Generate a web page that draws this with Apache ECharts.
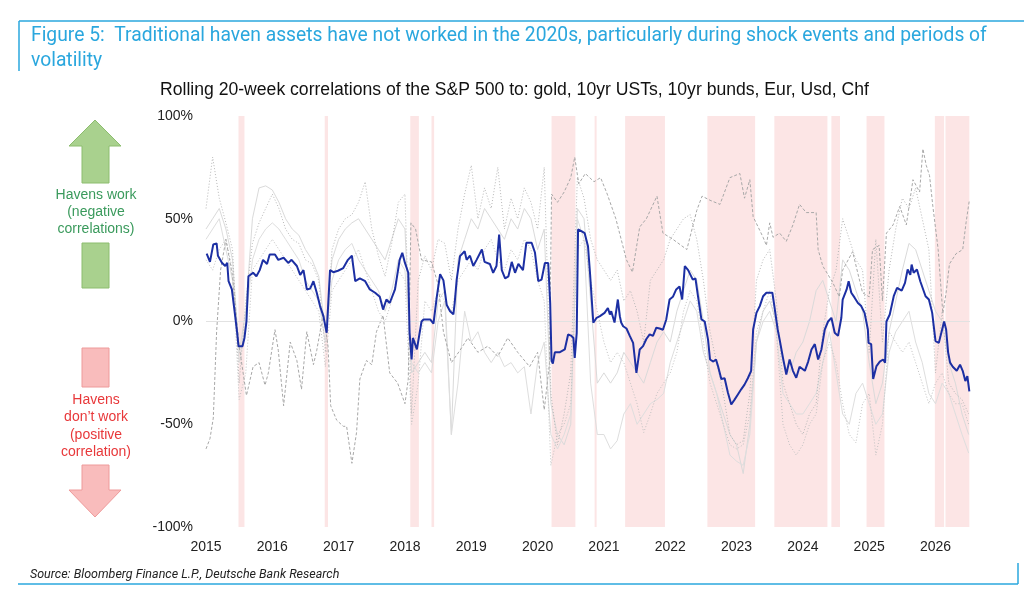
<!DOCTYPE html>
<html>
<head>
<meta charset="utf-8">
<script src="https://cdn.jsdelivr.net/npm/echarts@6/dist/echarts.min.js"></script>
<style>
  html, body { margin: 0; padding: 0; background: #fff; }
  #chart { width: 1024px; height: 597px; }
</style>
</head>
<body>
<div id="chart"></div>
<script>
// shaded "shock" periods, decimal years
var shockStart = [2015.49, 2016.79, 2018.08, 2018.40, 2020.21, 2020.86, 2021.32, 2022.56, 2023.57, 2024.43, 2024.96, 2025.99, 2026.15];
var shockEnd   = [2015.58, 2016.84, 2018.21, 2018.44, 2020.57, 2020.89, 2021.92, 2023.28, 2024.37, 2024.56, 2025.23, 2026.13, 2026.51];

var yTicks = [-100, -50, 0, 50, 100];

// average correlation (blue), [year, %]
var avgCorr = [[2015.01,33],[2015.06,29],[2015.11,37.5],[2015.16,38],[2015.18,32],[2015.24,28.6],[2015.29,27],[2015.32,28.6],[2015.34,19.6],[2015.39,15.6],[2015.44,2.6],[2015.47,-5.5],[2015.49,-12],[2015.55,-12],[2015.58,-8],[2015.61,0],[2015.64,22],[2015.71,23.7],[2015.76,22],[2015.81,25],[2015.86,30],[2015.92,28],[2015.96,32.6],[2016.04,32.6],[2016.09,30],[2016.17,31],[2016.24,28.5],[2016.29,30],[2016.37,27],[2016.42,22.7],[2016.47,25],[2016.52,15.6],[2016.57,16],[2016.62,19.6],[2016.67,14],[2016.72,7.5],[2016.77,2.6],[2016.82,-5.5],[2016.87,25],[2016.92,24],[2016.99,24.7],[2017.07,26],[2017.14,30],[2017.20,32],[2017.22,27],[2017.25,19.6],[2017.32,21],[2017.40,19.6],[2017.47,15.6],[2017.55,14],[2017.62,12],[2017.67,5.8],[2017.72,10.7],[2017.77,9],[2017.85,15.6],[2017.92,30],[2017.96,33.4],[2018.00,28.5],[2018.05,23.7],[2018.07,-5.5],[2018.10,-18.5],[2018.12,-8],[2018.18,-13.6],[2018.25,0],[2018.28,1],[2018.38,1],[2018.43,-1],[2018.48,12],[2018.53,23],[2018.58,20],[2018.63,8],[2018.68,5],[2018.73,3.5],[2018.75,9],[2018.78,20.4],[2018.83,31.8],[2018.90,34.2],[2018.93,30],[2018.98,32],[2019.03,27],[2019.08,30],[2019.16,35],[2019.20,29],[2019.28,28],[2019.33,23.7],[2019.38,27],[2019.42,42.3],[2019.46,25],[2019.51,21],[2019.56,22],[2019.61,29],[2019.66,23.7],[2019.71,28],[2019.78,25],[2019.83,38.3],[2019.91,38.3],[2019.96,33.6],[2020.01,19.6],[2020.06,20.4],[2020.11,28.5],[2020.16,28.5],[2020.19,9],[2020.21,-19],[2020.23,-20.5],[2020.26,-15],[2020.33,-15],[2020.41,-13.6],[2020.46,-6.3],[2020.51,-7],[2020.54,-8],[2020.56,-17.7],[2020.59,-5.5],[2020.61,44.8],[2020.66,44],[2020.71,43],[2020.76,36.6],[2020.79,23.7],[2020.84,-0.6],[2020.89,1.8],[2020.94,2.6],[2021.01,4.2],[2021.06,6.6],[2021.09,3.4],[2021.11,5],[2021.16,-0.5],[2021.21,10.7],[2021.24,2.6],[2021.26,-0.5],[2021.29,-2.3],[2021.34,-3.4],[2021.39,-7],[2021.44,-10.4],[2021.49,-25],[2021.54,-13.6],[2021.59,-12],[2021.64,-8.5],[2021.69,-6.3],[2021.74,-7],[2021.79,-3],[2021.84,-3.4],[2021.89,-4],[2021.94,1],[2021.99,10.7],[2022.04,12],[2022.09,15.6],[2022.14,17],[2022.18,10.7],[2022.22,27],[2022.27,25],[2022.34,20.4],[2022.38,21],[2022.42,12],[2022.47,1],[2022.52,0],[2022.57,-8.8],[2022.60,-18.5],[2022.65,-19.5],[2022.69,-18.5],[2022.72,-21.7],[2022.77,-28],[2022.82,-27.6],[2022.87,-34.7],[2022.92,-40.4],[2022.97,-38],[2023.02,-35.5],[2023.07,-33],[2023.12,-30.7],[2023.17,-27.6],[2023.22,-24],[2023.25,-3.9],[2023.30,4.2],[2023.35,7.5],[2023.40,12.3],[2023.45,14],[2023.50,14],[2023.54,14],[2023.57,7.5],[2023.62,-3.9],[2023.65,-8.8],[2023.70,-17.7],[2023.75,-25.8],[2023.80,-18.5],[2023.85,-24],[2023.90,-27.4],[2023.95,-22],[2024.03,-24],[2024.08,-19.5],[2024.13,-13.6],[2024.18,-11],[2024.23,-18.5],[2024.28,-13.6],[2024.33,-3.9],[2024.38,0],[2024.43,1.8],[2024.48,-5.5],[2024.53,-7],[2024.58,1.8],[2024.60,10.7],[2024.66,15.6],[2024.69,19.6],[2024.73,14],[2024.78,11.6],[2024.83,9],[2024.88,7.5],[2024.93,4.2],[2024.98,-3.9],[2024.99,-10.4],[2025.03,-11],[2025.06,-28],[2025.11,-21.7],[2025.16,-19.5],[2025.21,-18.5],[2025.24,-20],[2025.26,0],[2025.31,3.4],[2025.37,12.3],[2025.42,16.4],[2025.49,15],[2025.54,18.8],[2025.58,25.3],[2025.62,22.7],[2025.64,27.7],[2025.67,23.7],[2025.72,25.3],[2025.77,19.6],[2025.85,12.3],[2025.90,10.7],[2025.95,4.2],[2026.00,-9.6],[2026.05,-10.4],[2026.10,-3.9],[2026.13,0],[2026.16,-3.9],[2026.19,-15],[2026.22,-20],[2026.26,-22],[2026.32,-24],[2026.37,-21],[2026.41,-24],[2026.45,-29],[2026.48,-26.6],[2026.51,-34]];

// dashed grey line, [year, %]
var dashCorr = [[2015.00,-62],[2015.06,-57],[2015.11,-47],[2015.16,-5],[2015.22,25],[2015.30,40],[2015.40,22],[2015.50,-12],[2015.61,-36],[2015.71,-22],[2015.80,-20],[2015.89,-31],[2015.94,-25],[2016.04,-4],[2016.09,-14],[2016.17,-41],[2016.27,-10],[2016.37,-19],[2016.44,-33],[2016.52,-5],[2016.62,-21],[2016.67,-14],[2016.77,4],[2016.84,-12],[2016.88,-41],[2016.97,-48],[2017.07,-51],[2017.12,-51],[2017.20,-69],[2017.27,-54],[2017.32,-28],[2017.42,-19],[2017.50,-21],[2017.57,-5],[2017.67,3],[2017.77,-25],[2017.89,-30],[2018.00,-40],[2018.05,-28],[2018.09,48],[2018.16,45],[2018.25,30],[2018.40,29],[2018.50,18],[2018.58,-5],[2018.70,-20],[2018.83,-14],[2018.95,-8],[2019.10,-15],[2019.25,-12],[2019.40,-17],[2019.55,-8],[2019.70,-15],[2019.88,-22],[2020.00,-15],[2020.10,-43],[2020.18,-20],[2020.21,62],[2020.30,58],[2020.40,63],[2020.50,70],[2020.56,80],[2020.62,67],[2020.72,72],[2020.85,68],[2020.95,70],[2021.05,62],[2021.18,50],[2021.34,30],[2021.43,24],[2021.54,46],[2021.64,50],[2021.80,61],[2021.89,43],[2022.04,40],[2022.25,35],[2022.40,54],[2022.48,61],[2022.60,59],[2022.75,57],[2022.90,70],[2023.05,72],[2023.12,60],[2023.20,69],[2023.25,51],[2023.40,41],[2023.45,37],[2023.50,48],[2023.55,41],[2023.65,43],[2023.75,39],[2023.85,47],[2023.95,57],[2024.05,53],[2024.20,53],[2024.23,35],[2024.30,27],[2024.45,19],[2024.55,12],[2024.60,25],[2024.75,34],[2024.90,14],[2025.00,12],[2025.05,35],[2025.15,37],[2025.20,10],[2025.26,43],[2025.36,47],[2025.46,56],[2025.56,47],[2025.66,69],[2025.76,63],[2025.81,84],[2025.86,76],[2025.91,71],[2025.96,56],[2026.04,35],[2026.11,4],[2026.16,14],[2026.21,28],[2026.31,33],[2026.41,35],[2026.46,48],[2026.51,59]];

// other grey lines, one value every 0.1 year from 2015.0
var greyYears = [];
for (var i = 0; i <= 115; i++) greyYears.push(+(2015 + i * 0.1).toFixed(1));

var dotUpper = [55,80,60,48,35,-30,10,38,48,55, 62,55,45,40,38,30,28,20,-15,35, 45,50,52,58,68,45,32,22,38,58, 62,-45,20,32,25,40,38,20,45,62, 76,50,65,55,75,45,60,50,65,58, 45,75,-35,-60,-45,-25,70,60,40,30, 25,20,25,10,15,5,-10,20,25,30, 40,45,50,52,40,20,-5,-20,-35,-55, -60,-58,-35,20,30,35,10,-30,-40,-50, -55,-45,-40,-5,15,25,50,40,30,25, -15,40,-10,25,45,60,55,65,50,35, -25,5,-30,-35,-38,-45];
var dotLower = [30,25,35,40,25,-38,-25,25,30,35, 40,35,30,25,20,15,10,5,-22,15, 20,25,30,35,25,15,5,0,10,25, 20,-50,-30,10,5,15,10,5,20,25, 30,25,35,40,30,25,35,30,40,35, 20,10,-70,-55,-50,-40,35,40,20,5, -10,-20,-15,-20,-30,-40,-54,-45,-35,-30, -25,-15,5,15,10,-10,-30,-40,-50,-60, -62,-60,-45,-5,5,15,-5,-50,-60,-65, -60,-50,-45,-20,-10,-20,-40,-55,-59,-40, -35,-65,-50,-5,-10,-15,-10,-20,-30,-40, -30,-25,-35,-40,-40,-50];
var solidUpper = [45,50,55,45,30,-15,5,50,65,66, 64,58,50,45,42,35,30,22,-5,30, 40,45,48,50,45,40,35,30,40,50, 45,-25,-20,-15,-20,10,15,-55,30,40, 50,45,55,50,45,40,50,45,55,50, 35,45,-40,-55,-60,-50,55,50,10,-30, -25,-30,-25,-15,-20,-25,-30,-20,-10,-5, -10,5,15,25,20,0,-25,-35,-45,-55, -60,-74,-50,-10,5,10,0,-20,-25,-15, -10,0,15,20,10,0,30,25,15,5, -20,-40,-30,-5,10,25,38,35,25,15, 5,0,-20,-30,-45,-55];
var solidLower = [40,45,50,35,20,-20,0,30,40,45, 48,45,40,35,30,20,15,10,-10,20, 30,35,38,30,25,20,15,5,15,30, 25,-20,-25,-20,-25,0,10,-55,-30,5, -10,-5,-15,-20,-15,-22,-20,-25,-22,-45, -20,-10,-55,-62,-55,-45,50,40,-30,-55, -55,-62,-58,-45,-40,-50,-45,-40,-38,-35, -20,-10,0,10,5,-15,-25,-35,-50,-65, -68,-70,-55,-10,0,5,-5,-35,-40,-45, -45,-40,-35,-20,-5,-25,-45,-50,-35,-30, -40,-50,-45,-15,-5,0,5,-10,-20,-35, -40,-30,-35,-45,-55,-64];

function pairUp(vals) {
  return vals.map(function (v, k) { return [greyYears[k], v]; });
}

var chart = echarts.init(document.getElementById('chart'));

var bandData = shockStart.map(function (s, k) {
  return [{ xAxis: s }, { xAxis: shockEnd[k] }];
});

var greyLine = function (name, data, color, type) {
  return {
    name: name, type: 'line', data: data, symbol: 'none', z: 3,
    lineStyle: { color: color, width: 1, type: type }, silent: true
  };
};

var option = {
  backgroundColor: '#fff',
  animation: false,
  grid: { left: 206, right: 54, top: 116, bottom: 70 },
  xAxis: {
    type: 'value', min: 2015, max: 2026.52, interval: 1,
    axisLine: { show: false }, axisTick: { show: false }, splitLine: { show: false },
    axisLabel: {
      margin: 13, color: '#222', fontSize: 14, fontFamily: 'Liberation Sans',
      formatter: function (v) { return v % 1 === 0 ? String(v) : ''; }
    }
  },
  yAxis: {
    type: 'value', min: yTicks[0], max: yTicks[yTicks.length - 1], interval: 50,
    axisLine: { show: false }, axisTick: { show: false }, splitLine: { show: false },
    axisLabel: { margin: 13, color: '#222', fontSize: 14, fontFamily: 'Liberation Sans', formatter: '{value}%' }
  },
  series: [
    {
      name: 'bands', type: 'line', data: [], z: 1, silent: true,
      markArea: { silent: true, itemStyle: { color: '#fce5e5' }, data: bandData },
      markLine: {
        silent: true, symbol: 'none', label: { show: false },
        lineStyle: { color: '#e2e2e2', width: 1, type: 'solid' },
        data: [{ yAxis: 0 }]
      }
    },
    greyLine('solidUpper', pairUp(solidUpper), '#dadada', 'solid'),
    greyLine('solidLower', pairUp(solidLower), '#dedede', 'solid'),
    greyLine('dotUpper', pairUp(dotUpper), '#b8b8b8', [1, 2]),
    greyLine('dotLower', pairUp(dotLower), '#c2c2c2', [1, 2]),
    greyLine('dash', dashCorr, '#a8a8a8', [3, 2]),
    {
      name: 'average', type: 'line', data: avgCorr, symbol: 'none', z: 5,
      lineStyle: { color: '#1c2fa3', width: 2 }
    }
  ],
  graphic: [
    // frame lines
    { type: 'line', shape: { x1: 19, y1: 21, x2: 1024, y2: 21 }, style: { stroke: '#2aa7de', lineWidth: 1.5 } },
    { type: 'line', shape: { x1: 19, y1: 21, x2: 19, y2: 71 }, style: { stroke: '#2aa7de', lineWidth: 1.5 } },
    { type: 'line', shape: { x1: 18, y1: 584, x2: 1018, y2: 584 }, style: { stroke: '#2aa7de', lineWidth: 1.5 } },
    { type: 'line', shape: { x1: 1018, y1: 563, x2: 1018, y2: 584 }, style: { stroke: '#2aa7de', lineWidth: 1.5 } },
    {
      type: 'text', left: 31, top: 24,
      style: {
        text: 'Figure 5:  Traditional haven assets have not worked in the 2020s, particularly during shock events and periods of\nvolatility',
        fill: '#2aa7de', font: '19.3px Roboto', lineHeight: 25
      }
    },
    {
      type: 'text', left: 160, top: 81,
      style: {
        text: 'Rolling 20-week correlations of the S&P 500 to: gold, 10yr USTs, 10yr bunds, Eur, Usd, Chf',
        fill: '#111', font: '17.6px "Liberation Sans"'
      }
    },
    {
      type: 'text', left: 30, top: 568,
      style: { text: 'Source: Bloomberg Finance L.P., Deutsche Bank Research', fill: '#222', font: 'italic 12.5px Roboto' }
    },
    // green arrow (havens work)
    { type: 'polygon', shape: { points: [[95, 120], [121, 146], [109, 146], [109, 183], [82, 183], [82, 146], [69, 146]] },
      style: { fill: '#a9d18e', stroke: '#8cbd6e', lineWidth: 1 } },
    { type: 'rect', shape: { x: 82, y: 243, width: 27, height: 45 }, style: { fill: '#a9d18e', stroke: '#8cbd6e', lineWidth: 1 } },
    { type: 'text', x: 96, y: 187,
      style: { text: 'Havens work\n(negative\ncorrelations)', fill: '#3a9a5c', font: '14px "Liberation Sans"', textAlign: 'center', lineHeight: 17 } },
    // red arrow (havens don't work)
    { type: 'rect', shape: { x: 82, y: 348, width: 27, height: 39 }, style: { fill: '#f9bcbc', stroke: '#ee9a9a', lineWidth: 1 } },
    { type: 'polygon', shape: { points: [[82, 465], [109, 465], [109, 490], [121, 490], [95, 517], [69, 490], [82, 490]] },
      style: { fill: '#f9bcbc', stroke: '#ee9a9a', lineWidth: 1 } },
    { type: 'text', x: 96, y: 391,
      style: { text: 'Havens\ndon\u2019t work\n(positive\ncorrelation)', fill: '#e8383a', font: '14px "Liberation Sans"', textAlign: 'center', lineHeight: 17.5 } }
  ]
};

chart.setOption(option);
</script>
</body>
</html>
